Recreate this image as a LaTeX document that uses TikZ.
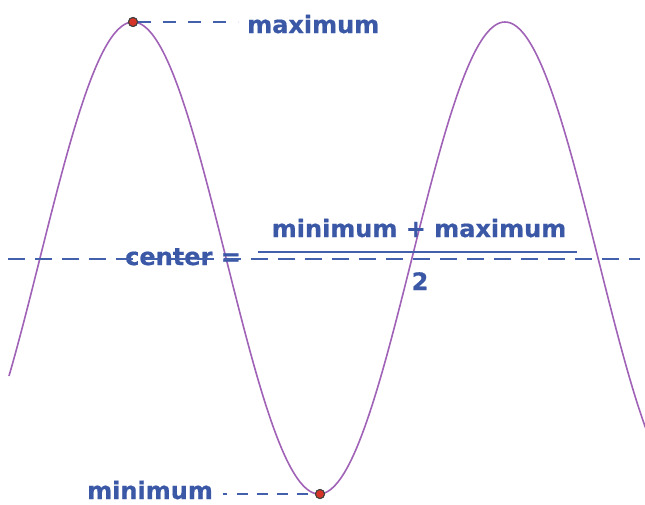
\documentclass[tikz,border=0pt]{standalone}
\usepackage{fontspec}
\setmainfont{DejaVu Sans}
\newfontfamily\lblfont{DejaVu Sans}[UprightFont={* Bold}, FakeBold=0.7]
\definecolor{txtblue}{RGB}{58,88,166}
\definecolor{lineblue}{RGB}{66,96,172}
\definecolor{wave}{RGB}{160,98,182}
\definecolor{dotred}{RGB}{214,52,40}
\tikzset{
  lbl/.style={inner sep=0pt, anchor=base west, text=txtblue, font=\fontsize{24}{28}\lblfont},
  lblc/.style={inner sep=0pt, anchor=base, text=txtblue, font=\fontsize{24}{28}\lblfont},
  guide/.style={draw=lineblue, line width=2pt},
  dotpt/.style={circle, fill=dotred, draw=black!75, line width=1pt, minimum size=9pt, inner sep=0pt},
  curve/.style={draw=wave, line width=1.6pt}
}
\begin{document}
\begin{tikzpicture}[x=1pt,y=-1pt]
\useasboundingbox (0,0) rectangle (645,504);
% wave
\begin{scope}
\clip (0,0) rectangle (645,504);
\draw[curve] plot[domain=9:648, samples=300, smooth] (\x, {258-236*cos(0.967742*(\x-133))});
\end{scope}
% labels
\node[lbl] (maxlbl) at (247,33) {maximum};
\node[lbl] (minlbl) at (87,499) {minimum};
\node[lbl] (ctr) at (125,265) {center =};
\node[lblc] (num) at (419,237) {minimum + maximum};
\node[lblc] (den) at (420,290) {2};
% fraction bar
\coordinate (barL) at (258,252);
\coordinate (barR) at (577,252);
\draw[draw=lineblue, line width=2.4pt] (barL) -- (barR);
% center line
\coordinate (cL) at (8,259);
\coordinate (cR) at (640,259);
\draw[guide, dash pattern=on 17pt off 10pt] (cL) -- (cR);
% points
\node[dotpt] (pmax) at (133,22) {};
\node[dotpt] (pmin) at (320,494) {};
\coordinate (maxend) at (238,22);
\draw[guide, dash pattern=on 13pt off 12pt] (pmax.east) -- (maxend);
\coordinate (minstart) at (223,494);
\draw[guide, dash pattern=on 4pt off 10pt on 11pt off 9pt on 11pt off 9pt on 11pt off 9pt on 11pt off 9pt] (minstart) -- (pmin.west);
\node[dotpt] at (pmax) {};
\node[dotpt] at (pmin) {};
\end{tikzpicture}
\end{document}
